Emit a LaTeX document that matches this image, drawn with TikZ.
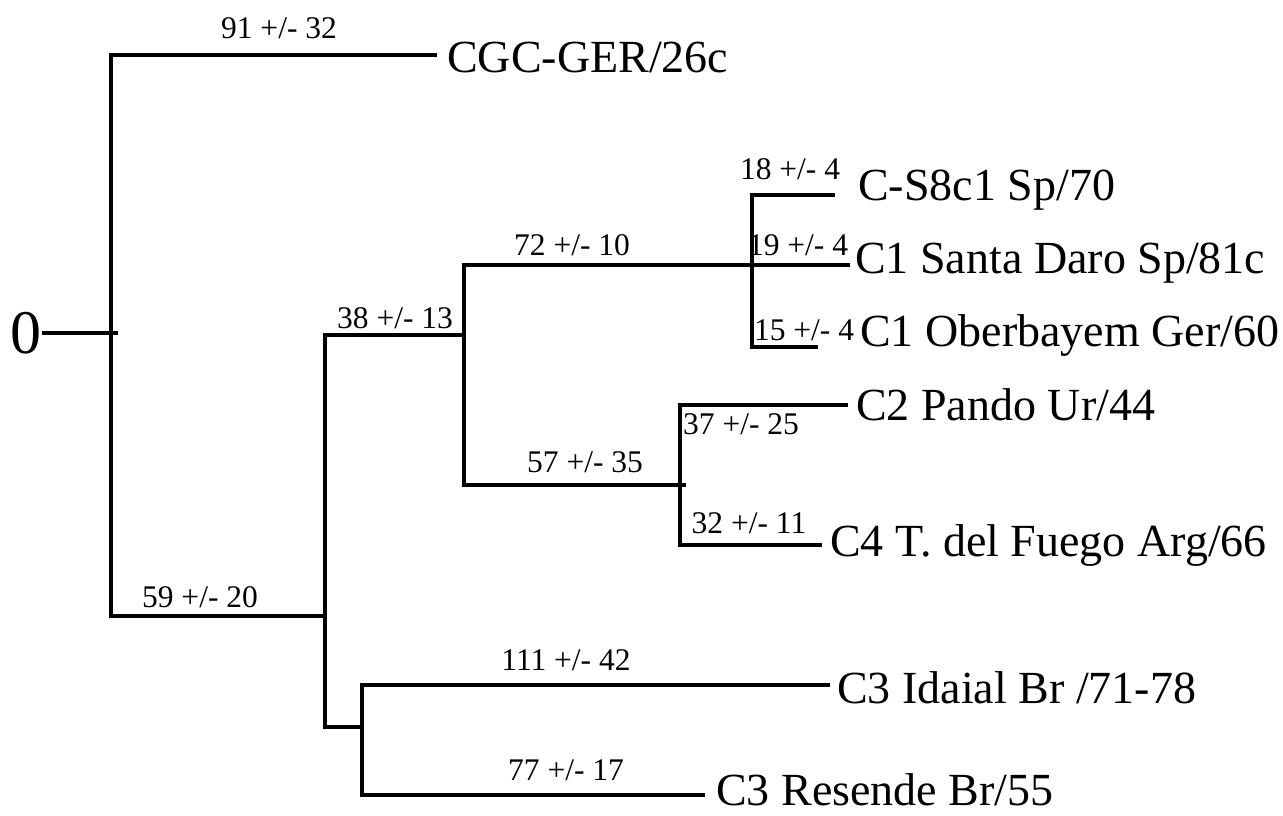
\documentclass[tikz,border=0pt]{standalone}
\usepackage{fontspec}
\setmainfont{Liberation Serif}
\begin{document}
\begin{tikzpicture}[x=1pt,y=-1pt,
  br/.style={line width=3.4pt,line join=miter},
  leaf/.style={anchor=west,inner sep=0pt,font=\fontsize{46}{46}\selectfont},
  blab/.style={inner sep=0pt,font=\fontsize{31.5}{31.5}\selectfont}]
\useasboundingbox (0,0) rectangle (1283,815);
% internal nodes
\coordinate (n0) at (111,333);
\coordinate (n0r) at (118,333);
\coordinate (n1) at (325,616);
\coordinate (n2) at (464,335);
\coordinate (n3) at (752,265);
\coordinate (n4) at (680,485);
\coordinate (n4r) at (686,485);
\coordinate (n5) at (362,727);
% branch ends
\coordinate (ecgc) at (437,55);
\coordinate (es8) at (835,195);
\coordinate (esd) at (850,265);
\coordinate (eob) at (818,347);
\coordinate (epa) at (848,405);
\coordinate (efu) at (822,545);
\coordinate (eid) at (830,685);
\coordinate (ere) at (705,795);
% root
\node[inner sep=0pt,font=\fontsize{62}{62}\selectfont] (zero) at (26,333) {0};
\draw[br] (zero.east) -- (n0r);
% leaves
\node[leaf] (cgc) at (447,57) {CGC-GER/26c};
\node[leaf] (s8) at (858,190) {C-S8c1 Sp/70};
\node[leaf] (sd) at (855,263) {C1 Santa Daro Sp/81c};
\node[leaf] (ob) at (860,335) {C1 Oberbayem Ger/60};
\node[leaf] (pa) at (856,405) {C2 Pando Ur/44};
\node[leaf] (fu) at (830,545) {C4 T. del Fuego Arg/66};
\node[leaf] (id) at (837,688) {C3 Idaial Br /71-78};
\node[leaf] (re) at (716,790) {C3 Resende Br/55};
% branches
\draw[br] (n0) |- (ecgc);
\draw[br] (n0) |- (n1);
\draw[br] (n1) |- (n2);
\draw[br] (n1) |- (n5);
\draw[br] (n2) |- (n3);
\draw[br] (n2) |- (n4r);
\draw[br] (n3) |- (es8);
\draw[br] (n3) -- (esd);
\draw[br] (n3) |- (eob);
\draw[br] (n4) |- (epa);
\draw[br] (n4) |- (efu);
\draw[br] (n5) |- (eid);
\draw[br] (n5) |- (ere);
% branch labels
\node[blab] (l91) at (279,28) {91 +/- 32};
\node[blab] (l18) at (790,169) {18 +/- 4};
\node[blab] (l72) at (572,245) {72 +/- 10};
\node[blab] (l19) at (798,245) {19 +/- 4};
\node[blab] (l38) at (395,318) {38 +/- 13};
\node[blab] (l15) at (804,330) {15 +/- 4};
\node[blab] (l37) at (741,424) {37 +/- 25};
\node[blab] (l57) at (585,462) {57 +/- 35};
\node[blab] (l32) at (749,523) {32 +/- 11};
\node[blab] (l59) at (200,597) {59 +/- 20};
\node[blab] (l111) at (566,660) {111 +/- 42};
\node[blab] (l77) at (566,770) {77 +/- 17};
\end{tikzpicture}
\end{document}
